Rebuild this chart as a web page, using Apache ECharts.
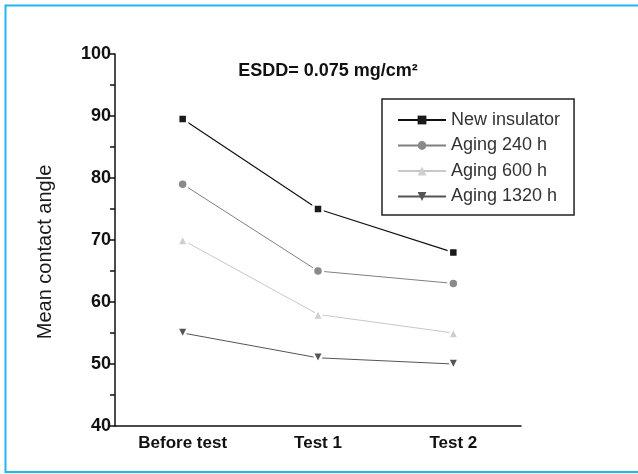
<!DOCTYPE html>
<html>
<head>
<meta charset="utf-8">
<script src="https://cdn.jsdelivr.net/npm/echarts@6/dist/echarts.min.js"></script>
<style>
html,body{margin:0;padding:0;background:#fff;}
#chart{width:638px;height:474px;}
</style>
</head>
<body>
<div id="chart"></div>
<script>
const categories = ['Before test', 'Test 1', 'Test 2'];
const seriesNames = ['New insulator', 'Aging 240 h', 'Aging 600 h', 'Aging 1320 h'];
const newInsulator = [89.5, 75, 68];
const aging240 = [79, 65, 63];
const aging600 = [70, 58, 55];
const aging1320 = [55, 51, 50];
const yTicks = { min: 40, max: 100, interval: 10 };
const titleText = 'ESDD= 0.075 mg/cm\u00B2';
const yName = 'Mean contact angle';

const FONT = "'Liberation Sans', Arial, sans-serif";
const chart = echarts.init(document.getElementById('chart'), null, { renderer: 'canvas' });

function mk(name, data, lineColor, lineWidth, symbol, size, symColor, rotate) {
  return {
    name: name, type: 'line', data: data,
    symbol: symbol, symbolSize: size, symbolRotate: rotate || 0,
    lineStyle: { color: lineColor, width: lineWidth },
    itemStyle: { color: symColor, borderColor: '#fff', borderWidth: 2.5 },
    emphasis: { disabled: true },
    animation: false, z: 3
  };
}

chart.setOption({
  animation: false,
  backgroundColor: '#fff',
  title: {
    text: titleText, left: 323, top: 57, textAlign: 'center',
    textStyle: { fontFamily: FONT, fontSize: 18, fontWeight: 'bold', color: '#111' }
  },
  grid: { left: 115, top: 54, width: 406, height: 372, containLabel: false },
  legend: {
    orient: 'vertical', left: 382, top: 99,
    data: seriesNames,
    itemWidth: 48, itemHeight: 11, itemGap: 7.5,
    padding: [12, 14, 9.5, 15],
    borderColor: '#222', borderWidth: 1.5,
    itemStyle: { borderWidth: 0 },
    textStyle: { fontFamily: FONT, fontSize: 18, color: '#333' },
    selectedMode: false
  },
  xAxis: [{
    type: 'category', data: categories, boundaryGap: true,
    axisLine: { lineStyle: { color: '#111', width: 1.5 } },
    axisTick: { alignWithLabel: true, length: 6, lineStyle: { color: '#111', width: 1.5 } },
    axisLabel: { margin: 9, fontFamily: FONT, fontSize: 17, fontWeight: 'bold', color: '#111' },
    splitLine: { show: false }
  }, {
    type: 'category', data: categories, boundaryGap: true, position: 'bottom', offset: 0,
    axisLine: { show: false },
    axisTick: { alignWithLabel: false, length: 6, lineStyle: { color: '#111', width: 1.5 } },
    axisLabel: { show: false },
    splitLine: { show: false }
  }],
  yAxis: {
    type: 'value', min: yTicks.min, max: yTicks.max, interval: yTicks.interval,
    axisLine: { show: true, lineStyle: { color: '#111', width: 1.5 } },
    axisTick: { show: true, length: 7, lineStyle: { color: '#111', width: 1.5 } },
    minorTick: { show: true, splitNumber: 2, length: 5, lineStyle: { color: '#111', width: 1.5 } },
    axisLabel: { margin: 4, fontFamily: FONT, fontSize: 18, fontWeight: 'bold', color: '#111' },
    splitLine: { show: false }
  },
  graphic: [{
    type: 'rect', shape: { x: 5.5, y: 5.5, width: 700, height: 466.5 },
    style: { fill: 'none', stroke: '#22B5EE', lineWidth: 2 }, silent: true
  }, {
    type: 'text', x: 45, y: 252, rotation: Math.PI / 2,
    style: { text: yName, fontFamily: FONT, fontSize: 20, fill: '#1a1a1a', textAlign: 'center', textVerticalAlign: 'middle' },
    silent: true
  }],
  series: [
    mk(seriesNames[0], newInsulator, '#111', 1.2, 'rect', 9, '#1a1a1a'),
    mk(seriesNames[1], aging240, '#808080', 1, 'circle', 10, '#8a8a8a'),
    mk(seriesNames[2], aging600, '#c8c8c8', 1, 'triangle', 11, '#cfcfcf'),
    mk(seriesNames[3], aging1320, '#555', 1, 'triangle', 11, '#555', 180)
  ]
});
</script>
</body>
</html>
